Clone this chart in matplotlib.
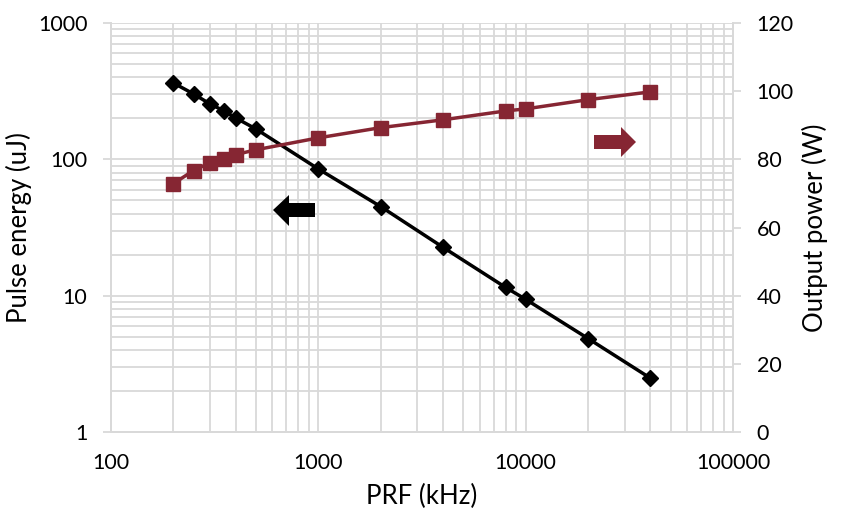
import matplotlib
matplotlib.use("Agg")
import matplotlib.pyplot as plt
from matplotlib.patches import Polygon
from matplotlib.ticker import LogLocator, FixedLocator, NullFormatter

plt.rcParams['font.family'] = ['Lato', 'DejaVu Sans']

prf_khz = [200, 250, 300, 350, 400, 500, 1000, 2000, 4000, 8000, 10000, 20000, 40000]
pulse_energy_uj = [363, 302, 255, 227, 201, 167, 85, 45, 22.6, 11.5, 9.4, 4.85, 2.48]
output_power_w = [72.9, 76.7, 79.0, 80.2, 81.4, 82.8, 86.3, 89.3, 91.6, 94.2, 94.8, 97.5, 99.8]

x_ticks = [100, 1000, 10000, 100000]
x_tick_labels = ["100", "1000", "10000", "100000"]
left_ticks = [1, 10, 100, 1000]
left_tick_labels = ["1", "10", "100", "1000"]
right_ticks = [0, 20, 40, 60, 80, 100, 120]

RED = "#862633"
GRID = "#d9d9d9"
W, H = 849, 521

fig = plt.figure(figsize=(W / 100, H / 100), dpi=100)
L, R, T, B = 111, 733, 23, 432
ax = fig.add_axes([L / W, (H - B) / H, (R - L) / W, (B - T) / H])
ax2 = ax.twinx()

ax.set_xscale("log")
ax.set_yscale("log")
ax.set_xlim(100, 100000)
ax.set_ylim(1, 1000)
ax2.set_ylim(0, 120)

ax.xaxis.set_major_locator(FixedLocator(x_ticks))
ax.set_xticklabels(x_tick_labels)
ax.xaxis.set_minor_locator(LogLocator(base=10, subs=range(2, 10)))
ax.xaxis.set_minor_formatter(NullFormatter())
ax.yaxis.set_major_locator(FixedLocator(left_ticks))
ax.set_yticklabels(left_tick_labels)
ax.yaxis.set_minor_locator(LogLocator(base=10, subs=range(2, 10)))
ax.yaxis.set_minor_formatter(NullFormatter())
ax2.yaxis.set_major_locator(FixedLocator(right_ticks))

ax.grid(True, which="both", color=GRID, linewidth=1.3)
ax.set_axisbelow(True)

for a in (ax, ax2):
    for s in a.spines.values():
        s.set_color(GRID)
        s.set_linewidth(1.3)
    a.spines["top"].set_visible(False)

ax.tick_params(axis="x", which="both", length=0, pad=15, labelsize=15.5, colors="black")
ax.tick_params(axis="y", which="major", length=6, width=1.3, color=GRID, pad=11, labelsize=15.5)
ax.tick_params(axis="y", which="minor", length=0)
ax2.tick_params(axis="y", length=6, width=1.3, color=GRID, pad=11, labelsize=15.5)

ax.set_xlabel("PRF (kHz)", fontsize=18.5, labelpad=8)
ax.set_ylabel("Pulse energy (uJ)", fontsize=18.5, labelpad=4)
ax2.set_ylabel("Output power (W)", fontsize=18.5, labelpad=6)

ax.plot(prf_khz, pulse_energy_uj, color="black", linewidth=2.5, marker="D",
        markersize=8.5, zorder=5, clip_on=False)
ax2.plot(prf_khz, output_power_w, color=RED, linewidth=2.5, marker="s",
         markersize=10, zorder=5, clip_on=False)


def arrow(pts, color):
    verts = [(x / 100, (H - y) / 100) for x, y in pts]
    fig.patches.append(Polygon(verts, closed=True, facecolor=color, edgecolor="none",
                               transform=fig.dpi_scale_trans))


# black arrow pointing left
arrow([(315, 203), (289, 203), (289, 195), (273, 210), (289, 226), (289, 217), (315, 217)], "black")
# red arrow pointing right
arrow([(594, 135), (621, 135), (621, 127), (636, 142), (621, 157), (621, 149), (594, 149)], RED)

fig.savefig("out.png", dpi=100)
